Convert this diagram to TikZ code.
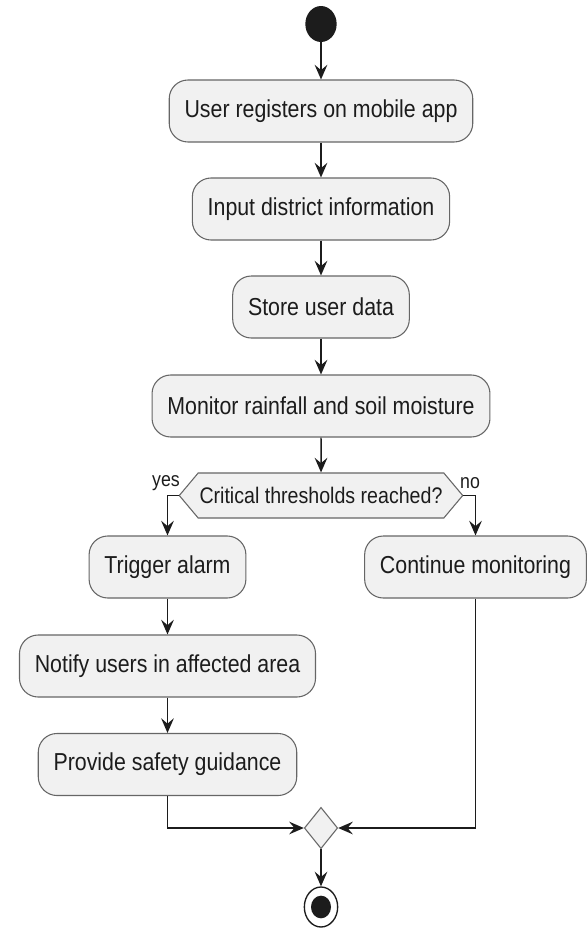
\documentclass[tikz,border=0pt]{standalone}
\usepackage{fontspec}
\setmainfont{Liberation Sans}[FakeStretch=0.87]
\usetikzlibrary{arrows.meta,shapes.geometric,shapes.symbols}
\definecolor{boxfill}{HTML}{F1F1F1}
\definecolor{boxline}{HTML}{666666}
\definecolor{ink}{HTML}{1C1C1C}

\begin{document}
\begin{tikzpicture}[x=0.75pt, y=-0.75pt,
  act/.style={draw=boxline, fill=boxfill, rounded corners=14pt, line width=0.8pt,
    minimum height=46.5pt, inner xsep=11.5pt, font=\fontsize{18.4}{21}\selectfont, text=ink},
  test/.style={signal, signal to=west and east, signal pointer angle=100,
    draw=boxline, fill=boxfill, line width=0.8pt, minimum height=33.75pt,
    inner xsep=1pt, font=\fontsize{16.9}{19}\selectfont, text=ink},
  lbl/.style={font=\fontsize{15.3}{17}\selectfont, text=ink, inner sep=0pt},
  flow/.style={draw=ink, line width=1.1pt, -{Stealth[length=11pt, width=9.5pt, inset=4pt]}}]
	\useasboundingbox (0,0) rectangle (587,928);

	\node[ellipse, fill=ink, minimum width=23.5pt, minimum height=27pt, inner sep=0pt] (start) at (321,24) {};
	\node[act] (register) at (321,111) {User registers on mobile app};
	\node[act] (district) at (321,209) {Input district information};
	\node[act] (store) at (321,307) {Store user data};
	\node[act] (monitor) at (321,406) {Monitor rainfall and soil moisture};
	\node[test] (check) at (321,495.5) {Critical thresholds reached?};
	\node[lbl] (yeslbl) at (166,483) {yes};
	\node[lbl] (nolbl) at (470,483) {no};
	\node[act] (alarm) at (167.5,567) {Trigger alarm};
	\node[act] (cont) at (475.5,567) {Continue monitoring};
	\node[act] (notify) at (167.5,666) {Notify users in affected area};
	\node[act] (guide) at (167.5,764.5) {Provide safety guidance};
	\node[diamond, draw=boxline, fill=boxfill, line width=0.8pt, inner sep=0pt,
	  minimum width=25pt, minimum height=31pt] (merge) at (321,828) {};
	\node[ellipse, draw=ink, line width=1pt, fill=white, minimum width=25pt, minimum height=30pt,
	  path picture={\fill[ink] (path picture bounding box.center) ellipse (7.5pt and 8.5pt);}] (stop) at (321,907) {};

	\draw[flow] (start) -- (register);
	\draw[flow] (register) -- (district);
	\draw[flow] (district) -- (store);
	\draw[flow] (store) -- (monitor);
	\draw[flow] (monitor) -- (check);
	\draw[flow] (check.west) -| (alarm.north);
	\draw[flow] (check.east) -| (cont.north);
	\draw[flow] (alarm) -- (notify);
	\draw[flow] (notify) -- (guide);
	\draw[flow] (guide.south) |- (merge.west);
	\draw[flow] (cont.south) |- (merge.east);
	\draw[flow] (merge) -- (stop);
\end{tikzpicture}
\end{document}
